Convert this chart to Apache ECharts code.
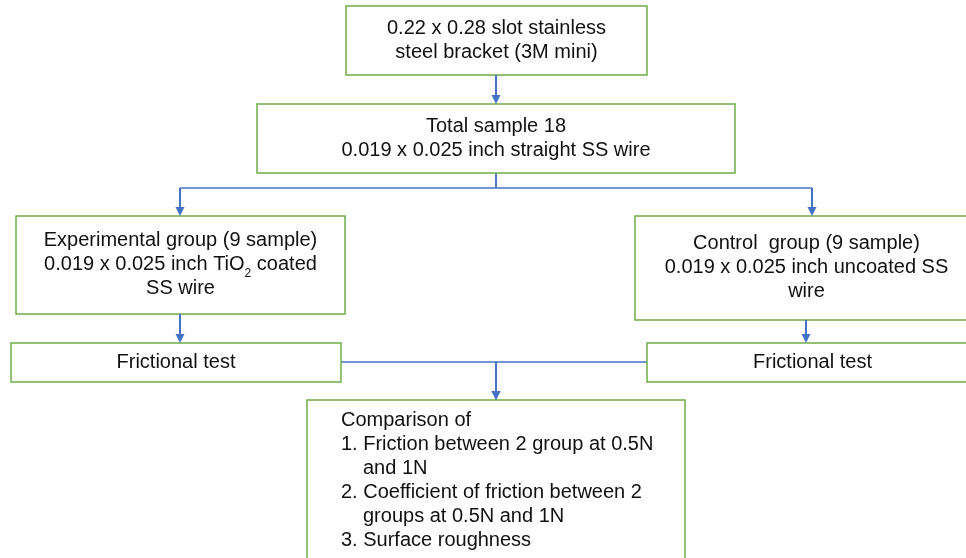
<!DOCTYPE html>
<html><head><meta charset="utf-8">
<script src="https://cdn.jsdelivr.net/npm/echarts@6/dist/echarts.min.js"></script>
<style>html,body{margin:0;padding:0;background:#fff}#c{width:966px;height:558px}</style>
</head><body><div id="c"></div>
<script>
// ---- content ----
const boxNames = ['bracket', 'total', 'experimental', 'control', 'frictionLeft', 'frictionRight', 'comparison'];
const bracketText = ['0.22 x 0.28 slot stainless', 'steel bracket (3M mini)'];
const totalText = ['Total sample 18', '0.019 x 0.025 inch straight SS wire'];
const experimentalText = ['Experimental group (9 sample)', '0.019 x 0.025 inch TiO{sub|2} coated', 'SS wire'];
const controlText = ['Control  group (9 sample)', '0.019 x 0.025 inch uncoated SS', 'wire'];
const frictionLeftText = ['Frictional test'];
const frictionRightText = ['Frictional test'];
const comparisonText = ['Comparison of', '1. Friction between 2 group at 0.5N', 'and 1N',
  '2. Coefficient of friction between 2', 'groups at 0.5N and 1N', '3. Surface roughness'];
const comparisonIndent = [0, 0, 1, 0, 1, 0];
const boxTexts = [bracketText, totalText, experimentalText, controlText, frictionLeftText, frictionRightText, comparisonText];

// ---- layout (page units) ----
const boxRects = [
  [346, 6, 647, 75],
  [257, 104, 735, 173],
  [16, 216, 345, 314],
  [635, 216, 978, 320],
  [11, 343, 341, 382],
  [647, 343, 978, 382],
  [307, 400, 685, 575]
];
const connectors = [
  [[496, 75], [496, 104]],
  [[496, 173], [496, 188], [180, 188], [180, 216]],
  [[496, 173], [496, 188], [812, 188], [812, 216]],
  [[180, 314], [180, 343]],
  [[806, 320], [806, 343]],
  [[341, 362], [496, 362], [496, 400]],
  [[647, 362], [496, 362], [496, 400]]
];

const FONT = '"Liberation Sans", Arial, sans-serif';
const FS = 20, SUB_FS = 12, LH = 24, ARROW = 9;
const TEXT_COLOR = '#111';

// split connectors into plain segments and arrow-ended last segments
const plainSegments = [];
const arrowSegments = [];
connectors.forEach(function (path) {
  for (let k = 0; k < path.length - 1; k++) {
    const a = path[k], b = path[k + 1];
    if (k === path.length - 2) {
      const dx = b[0] - a[0], dy = b[1] - a[1];
      const len = Math.sqrt(dx * dx + dy * dy);
      const e = [b[0] - dx / len * ARROW / 2, b[1] - dy / len * ARROW / 2];
      arrowSegments.push({ coords: [a, e] });
    } else {
      plainSegments.push({ coords: [a, b] });
    }
  }
});

const measureCtx = document.createElement('canvas').getContext('2d');
function textWidth(t, size) {
  measureCtx.font = size + 'px ' + FONT;
  return measureCtx.measureText(t).width;
}
function parseLine(t) {
  const parts = [];
  const re = /\{sub\|([^}]*)\}/g;
  let last = 0, m;
  while ((m = re.exec(t)) !== null) {
    if (m.index > last) parts.push({ t: t.slice(last, m.index), sub: false });
    parts.push({ t: m[1], sub: true });
    last = re.lastIndex;
  }
  if (last < t.length) parts.push({ t: t.slice(last), sub: false });
  return parts;
}

const chart = echarts.init(document.getElementById('c'), null, { renderer: 'canvas' });

function textEl(t, x, y, size, align) {
  return {
    type: 'text', x: x, y: y,
    style: { text: t, fill: TEXT_COLOR, fontSize: size, fontFamily: FONT, align: align, verticalAlign: 'middle' }
  };
}

function renderBox(params, api) {
  const i = params.dataIndex;
  const p0 = api.coord([api.value(0), api.value(1)]);
  const p1 = api.coord([api.value(2), api.value(3)]);
  const children = [{
    type: 'rect',
    shape: { x: p0[0], y: p0[1], width: p1[0] - p0[0], height: p1[1] - p0[1] },
    style: { fill: '#fff', stroke: '#70AD47', lineWidth: 1.5 }
  }];
  const lines = boxTexts[i];
  const isList = boxNames[i] === 'comparison';
  const cx = (p0[0] + p1[0]) / 2;
  const cy = (p0[1] + p1[1]) / 2 - 0.5;
  lines.forEach(function (t, k) {
    let x, y;
    if (isList) {
      x = p0[0] + 34 + (comparisonIndent[k] ? 22 : 0);
      y = p0[1] + 20.5 + k * LH;
      children.push(textEl(t, x, y, FS, 'left'));
      return;
    }
    x = cx;
    y = cy + (k - (lines.length - 1) / 2) * LH;
    const parts = parseLine(t);
    if (parts.length === 1) {
      children.push(textEl(t, x, y, FS, 'center'));
      return;
    }
    let total = 0;
    parts.forEach(function (p) { p.w = textWidth(p.t, p.sub ? SUB_FS : FS); total += p.w; });
    let sx = x - total / 2;
    parts.forEach(function (p) {
      children.push(textEl(p.t, sx, p.sub ? y + 9 : y, p.sub ? SUB_FS : FS, 'left'));
      sx += p.w;
    });
  });
  return { type: 'group', children: children };
}

chart.setOption({
  backgroundColor: '#fff',
  animation: false,
  grid: { left: 0, right: 0, top: 0, bottom: 0 },
  xAxis: { type: 'value', min: 0, max: 966, show: false },
  yAxis: { type: 'value', min: 0, max: 558, inverse: true, show: false },
  series: [
    {
      type: 'lines',
      coordinateSystem: 'cartesian2d',
      z: 1,
      symbol: ['none', 'none'],
      lineStyle: { color: '#4472C4', width: 1.5, opacity: 1, curveness: 0 },
      data: plainSegments
    },
    {
      type: 'custom',
      coordinateSystem: 'cartesian2d',
      z: 2,
      clip: false,
      renderItem: renderBox,
      data: boxRects
    },
    {
      type: 'lines',
      coordinateSystem: 'cartesian2d',
      z: 3,
      symbol: ['none', 'triangle'],
      symbolSize: ARROW,
      lineStyle: { color: '#4472C4', width: 2, opacity: 1, curveness: 0 },
      itemStyle: { color: '#4472C4' },
      data: arrowSegments
    }
  ]
});
</script>
</body></html>
